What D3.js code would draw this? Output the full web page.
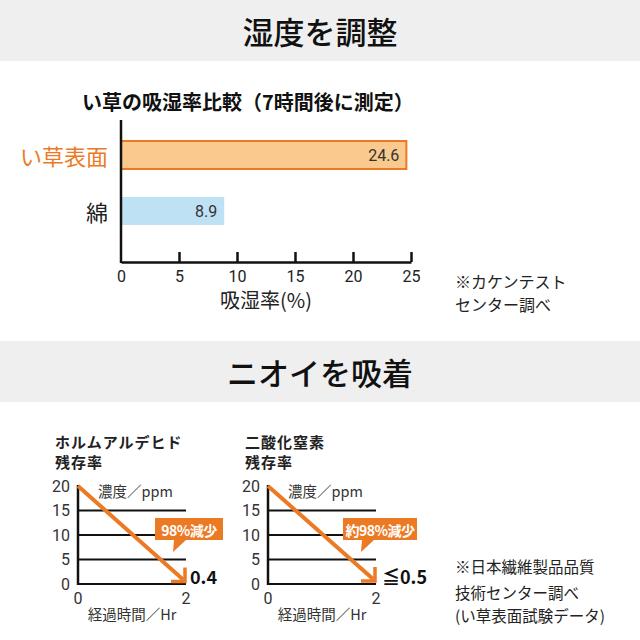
<!DOCTYPE html>
<html>
<head>
<meta charset="utf-8">
<script src="https://cdn.jsdelivr.net/npm/d3@7"></script>
<style>
  body { margin: 0; background: #fff; }
  svg { display: block; }
  text { font-family: "Noto Sans CJK JP", sans-serif; }
  .num { font-family: "Roboto", "Liberation Sans", sans-serif; }
</style>
</head>
<body>
<svg id="svg" width="640" height="640"></svg>
<script>
// humidity chart
const categories = ['い草表面', '綿'];
const values = [24.6, 8.9];
const xTicks = [0, 5, 10, 15, 20, 25];

// odour charts
const gases = ['ホルムアルデヒド', '二酸化窒素'];
const times = [0, 2];
const startValues = [20, 20];
const endValues = [0.4, 0.5];
const endLabels = ['0.4', '≦0.5'];
const callouts = ['98%減少', '約98%減少'];
const yTicks = [0, 5, 10, 15, 20];

const orange = '#ec7a24';
const svg = d3.select('#svg');

const drawHeader = function(y, h, label) {
  svg.append('rect').attr('x', 0).attr('y', y).attr('width', 640).attr('height', h).attr('fill', '#efefef');
  svg.append('text')
    .attr('x', 320).attr('y', y + h / 2)
    .attr('text-anchor', 'middle').attr('dominant-baseline', 'central')
    .style('font-size', '31px').style('font-weight', 500).attr('fill', '#111')
    .text(label);
};

drawHeader(0, 61, '湿度を調整');
drawHeader(341, 61, 'ニオイを吸着');

// ---- bar chart ----
const x = d3.scaleLinear().domain([0, 25]).range([121, 411]);
const y = d3.scaleBand().domain(categories).range([127, 239]).paddingInner(0.5).paddingOuter(0.25);

svg.append('text')
  .attr('x', 82).attr('y', 101).attr('dominant-baseline', 'central')
  .style('font-size', '20px').style('font-weight', 700).attr('fill', '#111')
  .text('い草の吸湿率比較（7時間後に測定）');

svg.selectAll('rect.bar')
  .data(categories)
  .enter()
  .append('rect')
  .classed('bar', true)
  .attr('x', x(0))
  .attr('y', d => y(d))
  .attr('width', (d, i) => x(values[i]) - x(0))
  .attr('height', y.bandwidth())
  .attr('fill', (d, i) => (i === 0 ? '#f9c98d' : '#bfe1f4'))
  .attr('stroke', (d, i) => (i === 0 ? orange : 'none'))
  .attr('stroke-width', 2);

svg.selectAll('text.val')
  .data(categories)
  .enter()
  .append('text')
  .classed('val num', true)
  .attr('x', (d, i) => x(values[i]) - 7)
  .attr('y', d => y(d) + y.bandwidth() / 2)
  .attr('text-anchor', 'end').attr('dominant-baseline', 'central')
  .style('font-size', '16px').attr('fill', '#333')
  .text((d, i) => values[i].toFixed(1));

svg.selectAll('text.cat')
  .data(categories)
  .enter()
  .append('text')
  .attr('x', 108)
  .attr('y', d => y(d) + y.bandwidth() / 2)
  .attr('text-anchor', 'end').attr('dominant-baseline', 'central')
  .style('font-size', '22px')
  .attr('fill', (d, i) => (i === 0 ? orange : '#222'))
  .text(d => d);

const xAxis = d3.axisBottom(x).tickValues(xTicks).tickSizeInner(-10).tickSizeOuter(0).tickPadding(9);
const gx = svg.append('g').attr('transform', 'translate(0,262)').call(xAxis);
gx.select('.domain').attr('stroke', '#111').attr('stroke-width', 2.5);
gx.selectAll('.tick line').attr('stroke', '#111').attr('stroke-width', 2.5);
gx.selectAll('.tick').filter(d => d === 0).select('line').remove();
gx.selectAll('.tick text')
  .attr('class', 'num')
  .style('font-size', '16px').attr('fill', '#222');

svg.append('line')
  .attr('x1', x(0)).attr('x2', x(0)).attr('y1', 120).attr('y2', 263)
  .attr('stroke', '#111').attr('stroke-width', 2.5);

svg.append('text')
  .attr('x', 266).attr('y', 299).attr('text-anchor', 'middle').attr('dominant-baseline', 'central')
  .style('font-size', '20px').attr('fill', '#222')
  .text('吸湿率(%)');

[['※カケンテスト', 281], ['センター調べ', 304]].forEach(t => {
  svg.append('text')
    .attr('x', 455).attr('y', t[1]).attr('dominant-baseline', 'central')
    .style('font-size', '16px').attr('fill', '#222')
    .text(t[0]);
});

// ---- odour charts ----
const drawSmall = function(i, x0) {
  const sx = d3.scaleLinear().domain(times).range([x0, x0 + 108]);
  const sy = d3.scaleLinear().domain([0, 20]).range([584, 486]);
  const g = svg.append('g');

  [gases[i], '残存率'].forEach((t, k) => {
    g.append('text')
      .attr('x', x0 - 23).attr('y', 441 + k * 20).attr('dominant-baseline', 'central')
      .style('font-size', '15px').style('font-weight', 700).attr('fill', '#222')
      .style('letter-spacing', '1px')
      .text(t);
  });

  g.selectAll('line.grid')
    .data(yTicks.filter(d => d < 20))
    .enter()
    .append('line')
    .attr('x1', sx(0)).attr('x2', sx(2))
    .attr('y1', d => sy(d)).attr('y2', d => sy(d))
    .attr('stroke', '#111').attr('stroke-width', 2);

  g.append('line')
    .attr('x1', sx(0)).attr('x2', sx(0)).attr('y1', sy(20) - 1).attr('y2', sy(0) + 1)
    .attr('stroke', '#111').attr('stroke-width', 2.5);

  g.selectAll('text.yt')
    .data(yTicks)
    .enter()
    .append('text')
    .attr('class', 'num')
    .attr('x', x0 - 8).attr('y', d => sy(d))
    .attr('text-anchor', 'end').attr('dominant-baseline', 'central')
    .style('font-size', '16px').attr('fill', '#333')
    .text(d => d);

  g.selectAll('text.xt')
    .data(times)
    .enter()
    .append('text')
    .attr('class', 'num')
    .attr('x', d => sx(d)).attr('y', 598)
    .attr('text-anchor', 'middle').attr('dominant-baseline', 'central')
    .style('font-size', '16px').attr('fill', '#333')
    .text(d => d);

  g.append('text')
    .attr('x', x0 + 20).attr('y', 490).attr('dominant-baseline', 'central')
    .style('font-size', '14.5px').attr('fill', '#333')
    .text('濃度／ppm');

  g.append('text')
    .attr('x', sx(1)).attr('y', 613).attr('text-anchor', 'middle').attr('dominant-baseline', 'central')
    .style('font-size', '14.5px').attr('fill', '#333')
    .text('経過時間／Hr');

  // arrow
  const ex = sx(2) - 1, ey = sy(endValues[i]) - 0.5;
  g.append('line')
    .attr('x1', sx(0)).attr('y1', sy(startValues[i]))
    .attr('x2', ex - 2).attr('y2', ey - 2)
    .attr('stroke', orange).attr('stroke-width', 4);
  g.append('path')
    .attr('d', `M${ex - 14},${ey} L${ex},${ey} L${ex},${ey - 14}`)
    .attr('fill', 'none').attr('stroke', orange).attr('stroke-width', 3.5);

  // callout
  const cx = x0 + 77 - i * 2;
  const cw = i === 0 ? 68 : 74;
  g.append('path')
    .attr('d', `M${cx},518 h${cw} v22 h${-cw + 31} L${cx + 18},552 L${cx + 19},540 h${-19} Z`)
    .attr('fill', orange);
  g.append('text')
    .attr('x', cx + cw / 2).attr('y', 529.5)
    .attr('text-anchor', 'middle').attr('dominant-baseline', 'central')
    .style('font-size', '14px').style('font-weight', 700).attr('fill', '#fff')
    .style('letter-spacing', '-0.5px')
    .text(callouts[i]);

  g.append('text')
    .attr('x', sx(2) + (i === 0 ? 4 : 6)).attr('y', 576)
    .attr('dominant-baseline', 'central')
    .style('font-size', '18px').style('font-weight', 700).attr('fill', '#111')
    .text(endLabels[i]);
};

drawSmall(0, 78);
drawSmall(1, 268);

[['※日本繊維製品品質', 566], ['技術センター調べ', 592], ['(い草表面試験データ)', 615]].forEach(t => {
  svg.append('text')
    .attr('x', 455).attr('y', t[1]).attr('dominant-baseline', 'central')
    .style('font-size', '15.5px').attr('fill', '#222')
    .text(t[0]);
});
</script>
</body>
</html>
